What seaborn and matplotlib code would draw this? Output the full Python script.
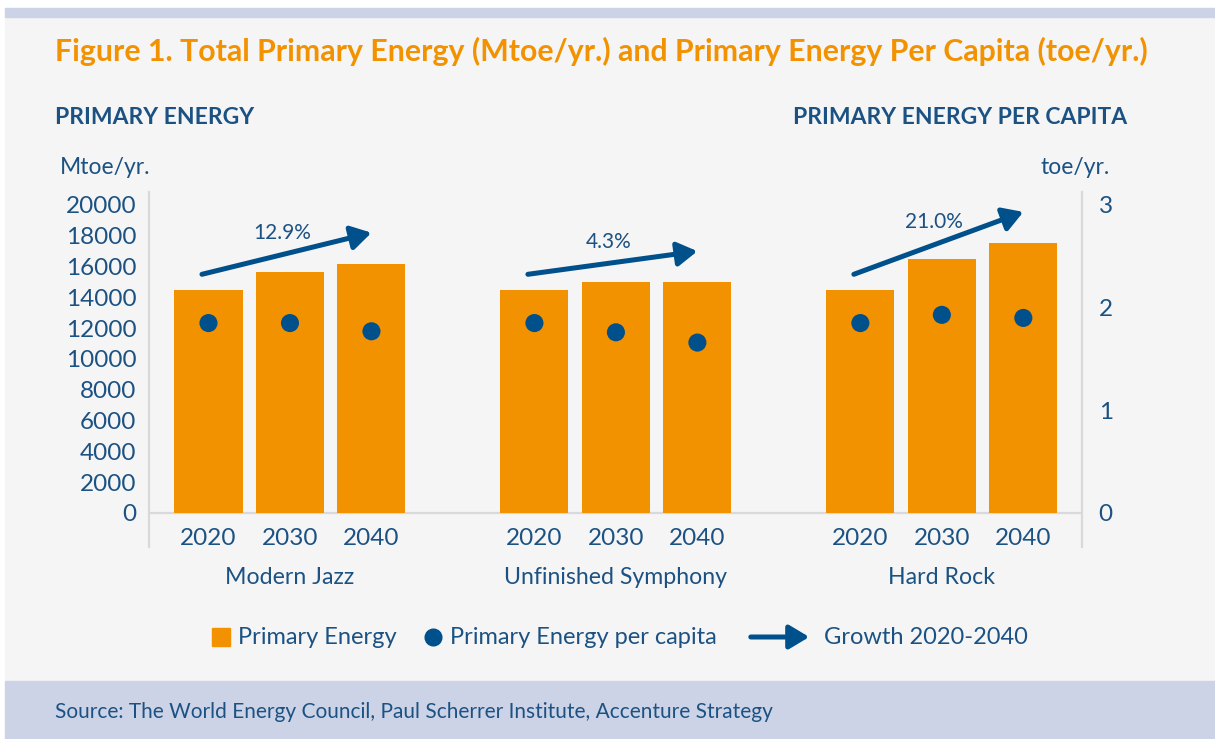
import pandas as pd
import seaborn as sns
import matplotlib.pyplot as plt
import matplotlib.patches as mpatches
from matplotlib.lines import Line2D

#%% Dados

scenarios = ['Modern Jazz', 'Unfinished Symphony', 'Hard Rock']
years = ['2020', '2030', '2040']
primary_energy = [[14500, 15650, 16200],
                  [14500, 15000, 15000],
                  [14500, 16500, 17550]]
per_capita = [[1.85, 1.85, 1.77],
              [1.85, 1.76, 1.66],
              [1.85, 1.93, 1.90]]
growth = ['12.9%', '4.3%', '21.0%']

rows = []
for gi, sc in enumerate(scenarios):
    for yi, yr in enumerate(years):
        rows.append({'pos': gi * 4 + yi, 'scenario': sc, 'year': yr,
                     'energy': primary_energy[gi][yi], 'per_capita': per_capita[gi][yi]})
df = pd.DataFrame(rows)

#%% Estilo

ORANGE = '#f39200'
BLUE = '#00508c'
TXT = '#1c5283'
GREY_BG = '#f5f5f5'
BAND = '#cdd3e6'
SPINE = '#d9d9d9'
ARROW = '-|>,head_length=0.75,head_width=0.45'

sns.set_theme(style='white')
plt.rcParams['font.family'] = ['Lato', 'DejaVu Sans']

W, H = 1215, 739
fx = lambda x: x / W
fy = lambda y: 1 - y / H

fig = plt.figure(figsize=(12.15, 7.39), dpi=100, facecolor='white')
fig.patches.append(mpatches.Rectangle((fx(5), fy(681)), fx(1210), 664 / H, transform=fig.transFigure,
                                      color=GREY_BG, zorder=-3))
fig.patches.append(mpatches.Rectangle((fx(5), fy(17)), fx(1210), 9 / H, transform=fig.transFigure,
                                      color=BAND, zorder=-3))
fig.patches.append(mpatches.Rectangle((fx(5), 0), fx(1210), 58 / H, transform=fig.transFigure,
                                      color=BAND, zorder=-3))

#%% Gráfico

ax = fig.add_axes([fx(149), fy(547), (1082 - 149) / W, (547 - 192) / H])
ax.set_facecolor('none')
sns.barplot(data=df, x='pos', y='energy', native_scale=True, width=0.835, color=ORANGE,
            saturation=1, errorbar=None, edgecolor='none', ax=ax)
ax.axhline(0, color=SPINE, lw=1.6, zorder=0.5)

ax2 = ax.twinx()
sns.scatterplot(data=df, x='pos', y='per_capita', ax=ax2, s=170, color=BLUE,
                edgecolor='none', legend=False, zorder=5)

ax.set_xlim(-0.73, 10.72)
ax.set_ylim(-2208, 20844)
ax2.set_ylim(-2208 * 3 / 20000, 20844 * 3 / 20000)
ax.set_yticks(range(0, 20001, 2000))
ax2.set_yticks([0, 1, 2, 3])
ax.set_xticks([])
for a in (ax, ax2):
    a.set_xlabel('')
    a.set_ylabel('')
    a.grid(False)
    for s in a.spines.values():
        s.set_visible(False)
ax.spines['left'].set_visible(True)
ax.spines['left'].set_color(SPINE)
ax.spines['left'].set_linewidth(1.6)
ax2.spines['right'].set_visible(True)
ax2.spines['right'].set_color(SPINE)
ax2.spines['right'].set_linewidth(1.6)
ax.tick_params(axis='y', length=0, pad=9, labelsize=17.5, labelcolor=TXT)
ax2.tick_params(axis='y', length=0, pad=12, labelsize=17.5, labelcolor=TXT)

# rótulos dos anos e dos cenários
for _, r in df.iterrows():
    ax.text(r['pos'], 0.023, r['year'], transform=ax.get_xaxis_transform(),
            ha='center', va='center', fontsize=17.5, color=TXT)
for gi, sc in enumerate(scenarios):
    ax.text(gi * 4 + 1, -0.087, sc, transform=ax.get_xaxis_transform(),
            ha='center', va='center', fontsize=16.7, color=TXT)

# setas de crescimento 2020-2040
for gi in range(len(scenarios)):
    x0, x1 = gi * 4 - 0.08, gi * 4 + 2
    y0, y1 = primary_energy[gi][0] + 1000, primary_energy[gi][2] + 2000
    ax.annotate('', xy=(x1, y1), xytext=(x0, y0),
                arrowprops=dict(arrowstyle=ARROW, color=BLUE, lw=3.6, mutation_scale=16,
                                shrinkA=0, shrinkB=0), zorder=6)
    ax.annotate(growth[gi], xy=((x0 + x1) / 2, (y0 + y1) / 2), xytext=(-3, 15),
                textcoords='offset points', ha='center', va='center', fontsize=15, color=TXT)

#%% Textos

fig.text(fx(55), fy(51), 'Figure 1. Total Primary Energy (Mtoe/yr.) and Primary Energy Per Capita (toe/yr.)',
         fontsize=21.8, fontweight='bold', color=ORANGE, va='center')
fig.text(fx(55), fy(118), 'PRIMARY ENERGY', fontsize=16.5, fontweight='bold', color=TXT, va='center')
fig.text(fx(1127), fy(118), 'PRIMARY ENERGY PER CAPITA', fontsize=16.5, fontweight='bold',
         color=TXT, va='center', ha='right')
fig.text(fx(60), fy(168), 'Mtoe/yr.', fontsize=16.5, color=TXT, va='center')
fig.text(fx(1110), fy(168), 'toe/yr.', fontsize=16.5, color=TXT, va='center', ha='right')
fig.text(fx(55), fy(712), 'Source: The World Energy Council, Paul Scherrer Institute, Accenture Strategy',
         fontsize=15, color=TXT, va='center')

# legenda
ly = fy(637)
fig.patches.append(mpatches.Rectangle((fx(212), fy(646)), 18 / W, 18 / H, transform=fig.transFigure,
                                      color=ORANGE))
fig.text(fx(238), ly, 'Primary Energy', fontsize=17, color=TXT, va='center')
fig.add_artist(Line2D([fx(433)], [ly], marker='o', ms=12, color=BLUE, transform=fig.transFigure))
fig.text(fx(450), ly, 'Primary Energy per capita', fontsize=17, color=TXT, va='center')
fig.add_artist(mpatches.FancyArrowPatch((fx(748), ly), (fx(812), ly), transform=fig.transFigure,
                                        arrowstyle=ARROW, mutation_scale=16, lw=3.6, color=BLUE))
fig.text(fx(824), ly, 'Growth 2020-2040', fontsize=17, color=TXT, va='center')

fig.savefig('out.png', dpi=100, facecolor='white')
